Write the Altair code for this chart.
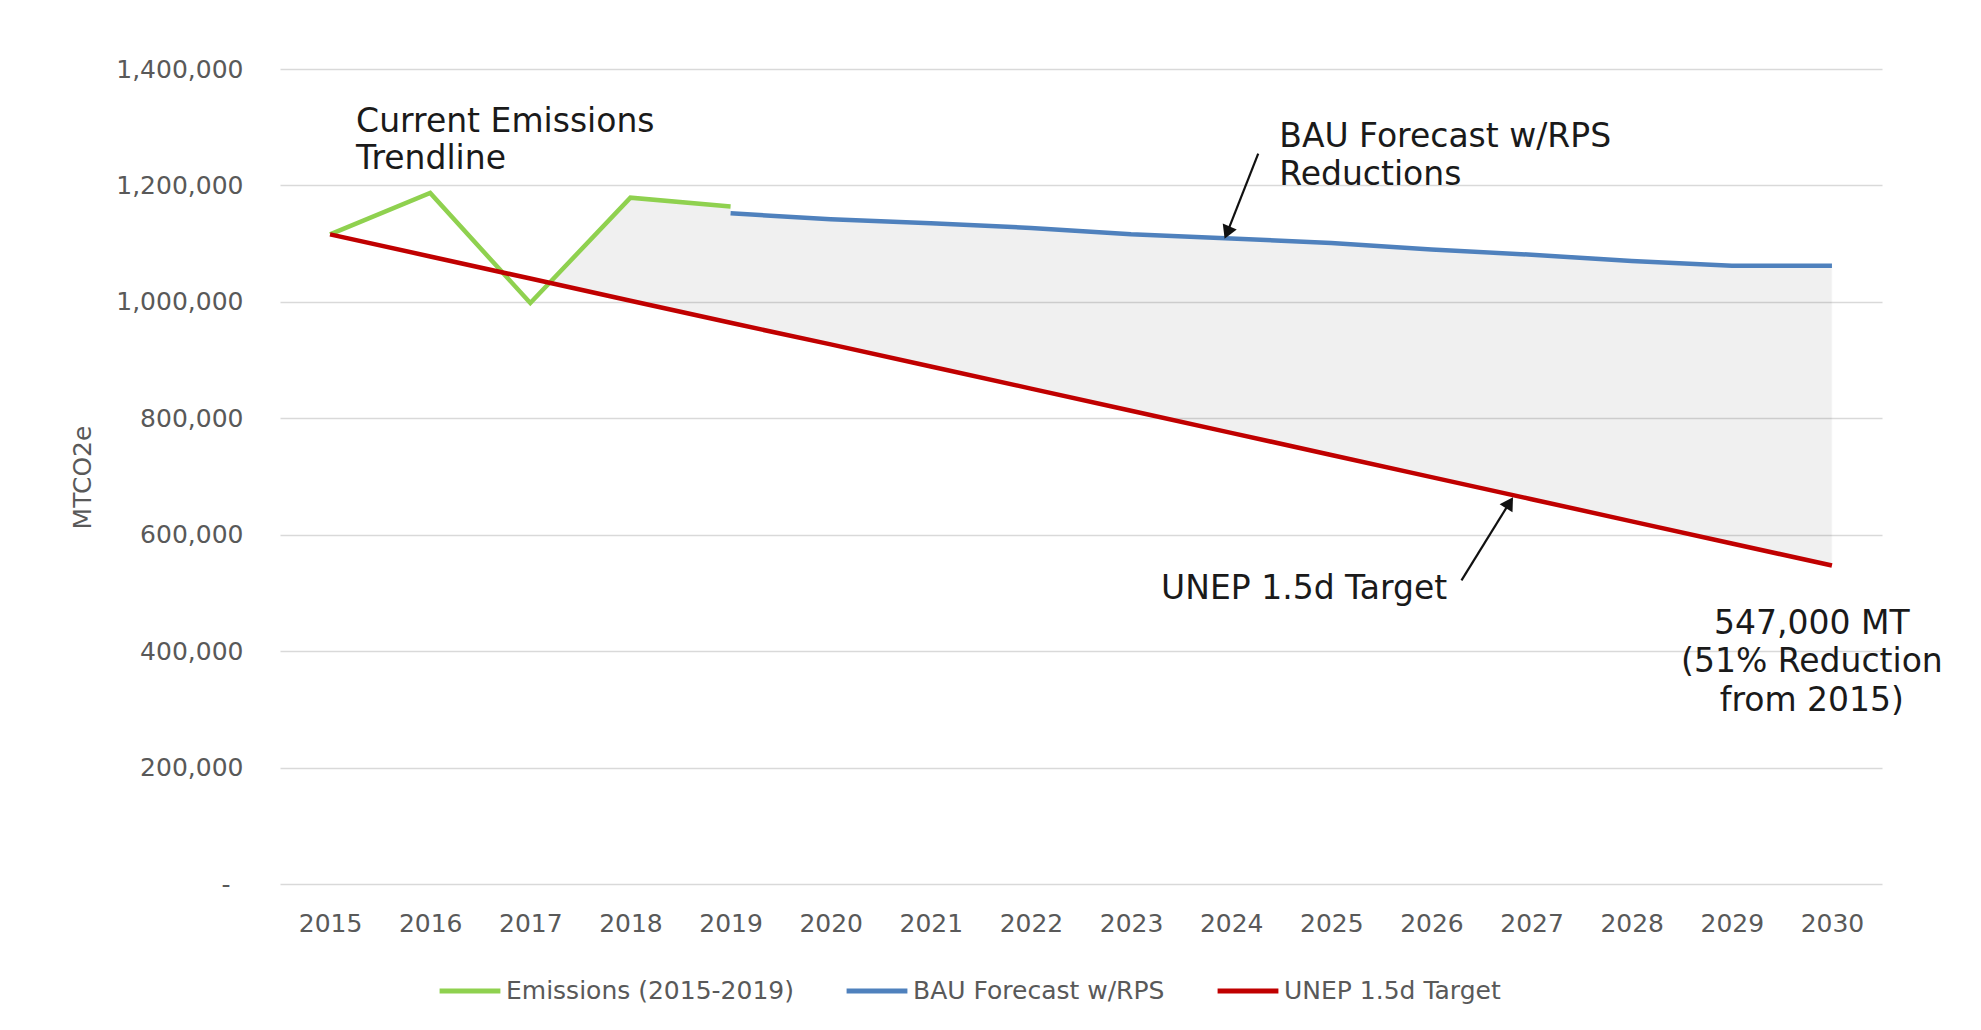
import altair as alt
import pandas as pd

# ---------------- data ----------------
emis_years = [2015, 2016, 2017, 2018, 2019]
emis_vals = [1116000, 1187000, 998000, 1179000, 1164000]

bau_years = [2019, 2020, 2021, 2022, 2023, 2024, 2025, 2026, 2027, 2028, 2029, 2030]
bau_vals = [1152000, 1142000, 1135000, 1127000, 1116000, 1109000, 1101000, 1090000,
            1081000, 1070000, 1062000, 1062000]

unep_years = list(range(2015, 2031))
unep_vals = [1116000, 1078000, 1040000, 1002000, 964000, 927000, 889000, 851000,
             813000, 775000, 737000, 699000, 661000, 623000, 585000, 547000]

# shaded gap (BAU / emissions above, UNEP target below)
gap_x = [2017.2, 2018, 2019, 2019, 2020, 2021, 2022, 2023, 2024, 2025, 2026, 2027, 2028, 2029, 2030]
gap_top = [1033000, 1179000, 1164000, 1152000, 1142000, 1135000, 1127000, 1116000, 1109000,
           1101000, 1090000, 1081000, 1070000, 1062000, 1062000]
gap_bottom = [1033000, 1002000, 964000, 964000, 927000, 889000, 851000, 813000, 775000,
              737000, 699000, 661000, 623000, 585000, 547000]

series_names = ["Emissions (2015-2019)", "BAU Forecast w/RPS", "UNEP 1.5d Target"]
series_colors = ["#8fd14f", "#4f81bd", "#c00000"]

year_ticks = list(range(2015, 2031))
y_ticks = [0, 200000, 400000, 600000, 800000, 1000000, 1200000, 1400000]

# annotations
left_text = ["Current Emissions", "Trendline", "BAU Forecast w/RPS", "Reductions", "UNEP 1.5d Target"]
left_x = [2015.26, 2015.26, 2024.48, 2024.48, 2023.30]
left_y = [1309000, 1245000, 1283000, 1218000, 506500]

center_text = ["547,000 MT", "(51% Reduction", "from 2015)"]
center_x = [2029.80, 2029.80, 2029.80]
center_y = [446500, 381000, 314000]

arrow_x = [2024.27, 2026.30]
arrow_y = [1254700, 521700]
arrow_x2 = [2023.96, 2026.78]
arrow_y2 = [1119000, 655000]
arrow_angle = [203, 32]

# ---------------- tables ----------------
lines_df = pd.concat([
    pd.DataFrame({"series": series_names[0], "year": emis_years, "value": emis_vals}),
    pd.DataFrame({"series": series_names[1], "year": bau_years, "value": bau_vals}),
    pd.DataFrame({"series": series_names[2], "year": unep_years, "value": unep_vals}),
], ignore_index=True)

gap_df = pd.DataFrame({"x": gap_x, "top": gap_top, "bottom": gap_bottom})
left_df = pd.DataFrame({"x": left_x, "y": left_y, "t": left_text})
center_df = pd.DataFrame({"x": center_x, "y": center_y, "t": center_text})
arrow_df = pd.DataFrame({"x": arrow_x, "y": arrow_y, "x2": arrow_x2, "y2": arrow_y2, "a": arrow_angle})

FONT = "DejaVu Sans"

xscale = alt.Scale(domain=[2014.5, 2030.5], nice=False, zero=False)
yscale = alt.Scale(domain=[0, 1400000], nice=False)

xaxis = alt.Axis(values=year_ticks, format="d", title=None, grid=False, domain=False,
                 ticks=False, labelPadding=27, labelFontSize=25, labelColor="#595959",
                 labelFont=FONT)
yaxis = alt.Axis(values=y_ticks, title="MTCO2e", grid=True, gridColor="#d9d9d9", gridWidth=1.5,
                 domain=False, ticks=False, labelPadding=37,
                 labelExpr="datum.value == 0 ? '-\u00a0\u2009\u200b' : format(datum.value, ',')",
                 labelFontSize=25, labelColor="#595959", labelFont=FONT,
                 titleFont=FONT, titleFontSize=25, titleColor="#595959", titleFontWeight="normal",
                 titleX=-198, titleY=408, titleAngle=270, titleAlign="center", titleBaseline="middle")

area = alt.Chart(gap_df).mark_area(color="#000000", opacity=0.055, stroke="#b0b0b0",
                                   strokeOpacity=0.5, strokeWidth=1.2).encode(
    x=alt.X("x:Q", scale=xscale, axis=xaxis),
    y=alt.Y("top:Q", scale=yscale, axis=yaxis),
    y2="bottom:Q",
)

lines = alt.Chart(lines_df).mark_line(strokeWidth=4.5).encode(
    x=alt.X("year:Q", scale=xscale, axis=xaxis),
    y=alt.Y("value:Q", scale=yscale, axis=yaxis),
    color=alt.Color("series:N", scale=alt.Scale(domain=series_names, range=series_colors),
                    legend=alt.Legend(title=None, orient="none", legendX=157, legendY=889,
                                      direction="horizontal", symbolType="stroke",
                                      symbolStrokeWidth=5, symbolSize=3700, labelOffset=3,
                                      columnPadding=42, labelFontSize=25, labelColor="#595959",
                                      labelFont=FONT, labelLimit=500)),
    detail="series:N",
)

arrows = alt.Chart(arrow_df).mark_rule(color="#111111", strokeWidth=2.2).encode(
    x=alt.X("x:Q", scale=xscale), y=alt.Y("y:Q", scale=yscale), x2="x2:Q", y2="y2:Q"
)
heads = alt.Chart(arrow_df).mark_point(shape="triangle-up", filled=True, color="#111111",
                                       size=230, opacity=1).encode(
    x=alt.X("x2:Q", scale=xscale), y=alt.Y("y2:Q", scale=yscale),
    angle=alt.Angle("a:Q", scale=None),
)

left_txt = alt.Chart(left_df).mark_text(align="left", baseline="middle", font=FONT, fontSize=33,
                                        color="#1a1a1a").encode(
    x=alt.X("x:Q", scale=xscale), y=alt.Y("y:Q", scale=yscale), text="t:N"
)
center_txt = alt.Chart(center_df).mark_text(align="center", baseline="middle", font=FONT, fontSize=33,
                                            color="#1a1a1a").encode(
    x=alt.X("x:Q", scale=xscale), y=alt.Y("y:Q", scale=yscale), text="t:N"
)

chart = alt.layer(area, lines, arrows, heads, left_txt, center_txt).properties(
    width=1602, height=815,
    padding={"left": 272, "top": 61, "right": 85, "bottom": 130},
    autosize=alt.AutoSizeParams(type="none"),
    background="white",
).configure_view(stroke=None).configure_axisX(grid=False)

chart.save("out.html", embed_options={"renderer": "svg", "actions": False})
